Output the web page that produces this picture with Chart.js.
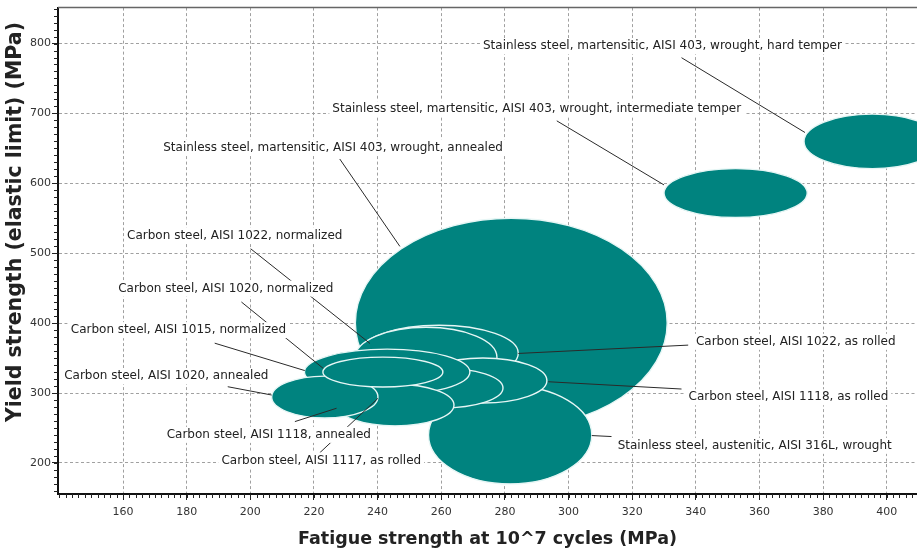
<!DOCTYPE html>
<html>
<head>
<meta charset="utf-8">
<script src="https://cdn.jsdelivr.net/npm/chart.js@4.4.1/dist/chart.umd.min.js"></script>
<style>
  html, body { margin: 0; padding: 0; background: #fff; }
</style>
</head>
<body>
<canvas id="chart" width="917" height="548"></canvas>
<script>
// Materials, in drawing order (back to front)
const materials = [
    'Stainless steel, martensitic, AISI 403, wrought, hard temper',
    'Stainless steel, martensitic, AISI 403, wrought, intermediate temper',
    'Stainless steel, martensitic, AISI 403, wrought, annealed',
    'Stainless steel, austenitic, AISI 316L, wrought',
    'Carbon steel, AISI 1022, as rolled',
    'Carbon steel, AISI 1022, normalized',
    'Carbon steel, AISI 1118, as rolled',
    'Carbon steel, AISI 1117, as rolled',
    'Carbon steel, AISI 1015, normalized',
    'Carbon steel, AISI 1118, annealed',
    'Carbon steel, AISI 1020, annealed',
    'Carbon steel, AISI 1020, normalized'
];

// Property ranges (MPa)
const fatigueLow  = [374, 330, 233, 256, 234.4, 233, 253, 241, 217, 227, 206.7, 222.8];
const fatigueHigh = [417, 375, 331, 307.3, 284.2, 277.5, 293.2, 279.4, 269, 264, 240.1, 260.5];
const yieldLow    = [621, 551, 250, 170, 317, 308.6, 285.7, 278.6, 297, 253, 264.3, 308.6];
const yieldHigh   = [699, 621, 550, 310, 397, 394, 350, 335.6, 362.8, 312.6, 324.2, 351.4];

// Axis ticks
const xTickValues = [160, 180, 200, 220, 240, 260, 280, 300, 320, 340, 360, 380, 400];
const yTickValues = [200, 300, 400, 500, 600, 700, 800];

// Label anchors (centre of text, in data units) and leader lines
const labelFatigue = [329.5, 290.0, 226.0, 358.5, 371.4, 195.1, 369.1, 222.3, 177.4, 205.8, 173.6, 192.3];
const labelYield   = [796.4, 706.1, 651.4, 224.4, 373.2, 525.4, 293.9, 203.4, 389.9, 240.1, 324.2, 449.4];
const leaderFromX  = [335.5, 296.3, 228.1, 313.5, 337.6, 200.1, 335.5, 221.8, 188.8, 214.0, 192.9, 197.2];
const leaderFromY  = [779.7, 689.4, 634.8, 237.7, 368.5, 506.4, 305.7, 214.4, 371.3, 259.1, 309.0, 430.2];
const leaderToX    = [374.3, 330.0, 247.0, 307.3, 284.2, 237.6, 293.6, 240.1, 217.1, 227.1, 206.7, 222.9];
const leaderToY    = [672.7, 597.7, 509.7, 239.1, 356.6, 370.9, 316.1, 292.4, 332.1, 278.2, 297.1, 335.2];

const TEAL = '#00837f';
const FONT = '"DejaVu Sans", Verdana, sans-serif';

const ellipsePlugin = {
    id: 'ellipses',
    beforeDatasetsDraw(chart) {
        const { ctx, chartArea: a, scales: { x, y } } = chart;
        ctx.save();
        ctx.beginPath();
        ctx.rect(a.left, a.top, a.right - a.left, a.bottom - a.top);
        ctx.clip();
        materials.forEach((m, i) => {
            const x0 = x.getPixelForValue(fatigueLow[i]);
            const x1 = x.getPixelForValue(fatigueHigh[i]);
            const y0 = y.getPixelForValue(yieldLow[i]);
            const y1 = y.getPixelForValue(yieldHigh[i]);
            ctx.beginPath();
            ctx.ellipse((x0 + x1) / 2, (y0 + y1) / 2, Math.abs(x1 - x0) / 2, Math.abs(y0 - y1) / 2, 0, 0, Math.PI * 2);
            ctx.fillStyle = TEAL;
            ctx.fill();
            ctx.lineWidth = 1.4;
            ctx.strokeStyle = '#e6f6f5';
            ctx.stroke();
        });
        ctx.restore();
    },
    afterDatasetsDraw(chart) {
        const { ctx, scales: { x, y } } = chart;
        ctx.save();
        // leader lines first, labels on top of them
        ctx.strokeStyle = '#2a2a2a';
        ctx.lineWidth = 1;
        materials.forEach((m, i) => {
            ctx.beginPath();
            ctx.moveTo(x.getPixelForValue(leaderFromX[i]), y.getPixelForValue(leaderFromY[i]));
            ctx.lineTo(x.getPixelForValue(leaderToX[i]), y.getPixelForValue(leaderToY[i]));
            ctx.stroke();
        });
        ctx.font = '12px ' + FONT;
        ctx.textAlign = 'center';
        ctx.textBaseline = 'middle';
        materials.forEach((m, i) => {
            const cx = x.getPixelForValue(labelFatigue[i]);
            const cy = y.getPixelForValue(labelYield[i]);
            const w = ctx.measureText(m).width;
            ctx.fillStyle = '#fff';
            ctx.fillRect(cx - w / 2 - 3, cy - 8, w + 6, 16);
            ctx.fillStyle = '#222';
            ctx.fillText(m, cx, cy);
        });
        ctx.restore();
    },
    afterDraw(chart) {
        const { ctx, chartArea: a, scales: { x, y } } = chart;
        ctx.save();
        // frame top
        ctx.strokeStyle = '#666';
        ctx.lineWidth = 1.5;
        ctx.beginPath();
        ctx.moveTo(a.left, a.top);
        ctx.lineTo(a.right, a.top);
        ctx.stroke();
        // minor ticks
        ctx.strokeStyle = '#222';
        ctx.lineWidth = 1;
        ctx.beginPath();
        for (let v = Math.ceil(x.min / 2) * 2; v <= x.max; v += 2) {
            const px = Math.round(x.getPixelForValue(v)) + 0.5;
            ctx.moveTo(px, a.bottom);
            ctx.lineTo(px, a.bottom + 4);
        }
        for (let v = Math.ceil(y.min / 10) * 10; v <= y.max; v += 10) {
            const py = Math.round(y.getPixelForValue(v)) + 0.5;
            ctx.moveTo(a.left, py);
            ctx.lineTo(a.left - 4, py);
        }
        ctx.stroke();
        // y axis title (larger than the x one in the original)
        ctx.translate(16, 222);
        ctx.rotate(-Math.PI / 2);
        ctx.font = 'bold 20.5px ' + FONT;
        ctx.fillStyle = '#222';
        ctx.textAlign = 'center';
        ctx.textBaseline = 'middle';
        ctx.fillText('Yield strength (elastic limit) (MPa)', 0, 0);
        ctx.restore();
    }
};

const centres = materials.map((m, i) => ({
    x: (fatigueLow[i] + fatigueHigh[i]) / 2,
    y: (yieldLow[i] + yieldHigh[i]) / 2
}));

new Chart(document.getElementById('chart'), {
    type: 'scatter',
    data: {
        datasets: [{
            label: 'Materials',
            data: centres,
            pointRadius: 0,
            pointHoverRadius: 0
        }]
    },
    options: {
        responsive: false,
        animation: false,
        layout: { padding: { top: 7, right: 0, left: 0, bottom: 0 } },
        plugins: {
            legend: { display: false },
            tooltip: { enabled: false }
        },
        scales: {
            x: {
                type: 'linear',
                min: 139.56,
                max: 409.5,
                afterBuildTicks: s => { s.ticks = xTickValues.map(v => ({ value: v })); },
                afterFit: s => { s.height = 54; },
                ticks: {
                    autoSkip: false,
                    maxRotation: 0,
                    padding: 6,
                    color: '#333',
                    font: { family: FONT, size: 11 }
                },
                grid: {
                    color: '#a0a0a0',
                    lineWidth: 1,
                    tickLength: 6,
                    tickColor: '#222',
                    tickWidth: 1
                },
                border: { display: true, color: '#111', width: 2, dash: [3, 2.5] },
                title: {
                    display: true,
                    text: 'Fatigue strength at 10^7 cycles (MPa)',
                    color: '#222',
                    font: { family: FONT, size: 17.5, weight: 'bold', lineHeight: 1 },
                    padding: { top: 0, bottom: 0 }
                }
            },
            y: {
                type: 'linear',
                min: 155.5,
                max: 851.4,
                afterBuildTicks: s => { s.ticks = yTickValues.map(v => ({ value: v })); },
                afterFit: s => { s.width = 58; },
                ticks: {
                    autoSkip: false,
                    padding: 1,
                    color: '#333',
                    font: { family: FONT, size: 11 }
                },
                grid: {
                    color: '#a0a0a0',
                    lineWidth: 1,
                    tickLength: 6,
                    tickColor: '#222',
                    tickWidth: 1
                },
                border: { display: true, color: '#111', width: 2, dash: [3, 2.5] }
            }
        }
    },
    plugins: [ellipsePlugin]
});
</script>
</body>
</html>
